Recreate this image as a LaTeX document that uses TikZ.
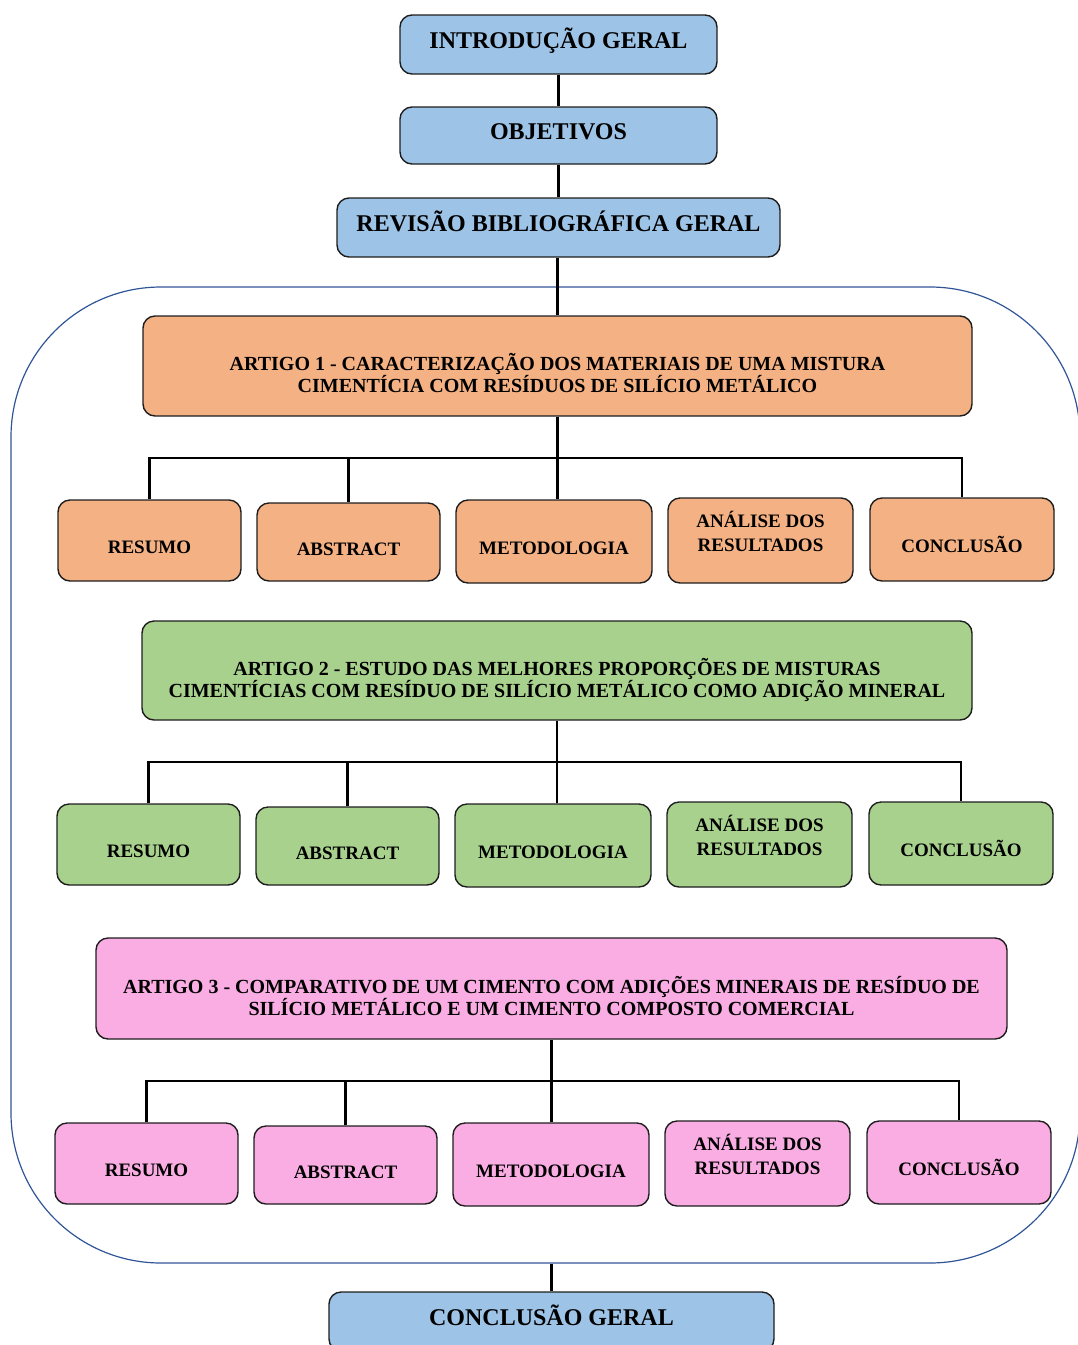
\documentclass[tikz,border=0pt]{standalone}
\usepackage{fontspec}
\setmainfont{Liberation Serif}
\usepackage{tikz}
\definecolor{azulcaixa}{HTML}{9DC3E6}
\definecolor{laranja}{HTML}{F4B183}
\definecolor{verde}{HTML}{A9D18E}
\definecolor{rosa}{HTML}{F9ADE3}
\definecolor{azulborda}{HTML}{2F5597}
\definecolor{contorno}{HTML}{1E1E1E}

\begin{document}
\begin{tikzpicture}[x=1pt, y=-1pt, every node/.style={draw=contorno, line width=1.4pt, rounded corners=12pt, inner sep=0pt},
  geral/.style={fill=azulcaixa, font=\fontsize{24}{28}\selectfont\bfseries, minimum height=59pt, text height=8pt, text depth=0pt},
  artigo/.style={align=center, font=\fontsize{20}{22}\selectfont\bfseries, minimum height=100pt, text height=53pt, text depth=0pt},
  secao/.style={font=\fontsize{19}{22}\selectfont\bfseries, text height=26pt, text depth=0pt},
  analise/.style={align=center, font=\fontsize{19}{24}\selectfont\bfseries, text height=22pt, text depth=0pt},
  ligacao/.style={line width=2.6pt, draw=black}]
  \useasboundingbox (0,0) rectangle (1078,1345);

  % moldura dos artigos
  \node[draw=azulborda, line width=1.2pt, rounded corners=150pt, minimum width=1069pt, minimum height=976pt] (moldura) at (545.5,775) {};

  \node[geral, minimum width=317pt] (intro) at (558.5,44.5) {INTRODUÇÃO GERAL};
  \node[geral, minimum width=317pt, minimum height=57pt] (obj) at (558.5,135.5) {OBJETIVOS};
  \node[geral, minimum width=443pt] (rev) at (558.5,227.5) {REVISÃO BIBLIOGRÁFICA GERAL};

  \node[artigo, fill=laranja, minimum width=829pt] (art1) at (557.5,366)
    {ARTIGO 1 - CARACTERIZAÇÃO DOS MATERIAIS DE UMA MISTURA\\CIMENTÍCIA COM RESÍDUOS DE SILÍCIO METÁLICO};
  \node[artigo, fill=verde, minimum width=830pt, minimum height=99pt] (art2) at (557,670.5)
    {ARTIGO 2 - ESTUDO DAS MELHORES PROPORÇÕES DE MISTURAS\\CIMENTÍCIAS COM RESÍDUO DE SILÍCIO METÁLICO COMO ADIÇÃO MINERAL};
  \node[artigo, fill=rosa, minimum width=911pt, minimum height=101pt] (art3) at (551.5,988.5)
    {ARTIGO 3 - COMPARATIVO DE UM CIMENTO COM ADIÇÕES MINERAIS DE RESÍDUO DE\\SILÍCIO METÁLICO E UM CIMENTO COMPOSTO COMERCIAL};

  \node[geral, minimum width=445pt] (cg) at (551.5,1321.5) {CONCLUSÃO GERAL};

  % secoes de cada artigo
  \foreach \r/\dx/\dy/\cor in {1/0/0/laranja, 2/-1/304/verde, 3/-3/623/rosa}{
    \node[secao, fill=\cor, minimum width=183pt, minimum height=81pt] (res\r) at (149.5+\dx,540.5+\dy) {RESUMO};
    \node[secao, fill=\cor, minimum width=183pt, minimum height=78pt] (abs\r) at (348.5+\dx,542+\dy) {ABSTRACT};
    \node[secao, fill=\cor, minimum width=196pt, minimum height=83pt] (met\r) at (554+\dx,541.5+\dy) {METODOLOGIA};
    \node[analise, fill=\cor, minimum width=185pt, minimum height=85pt] (ana\r) at (760.5+\dx,540.5+\dy) {ANÁLISE DOS\\RESULTADOS};
    \node[secao, fill=\cor, minimum width=184pt, minimum height=83pt] (con\r) at (962+\dx,539.5+\dy) {CONCLUSÃO};
    \coordinate (barra\r) at (556+\dx,458+\dy);
    \draw[ligacao] (art\r.south) -- (art\r.south |- met\r.north);
    \draw[ligacao] (res\r.north) |- (barra\r) -| (con\r.north);
    \draw[ligacao] (abs\r.north) -- (abs\r.north |- barra\r);
  }

  \draw[ligacao] (intro) -- (obj);
  \draw[ligacao] (obj) -- (rev);
  \draw[ligacao] (art1.north |- rev.south) -- (art1.north);
  \draw[ligacao] (cg.north |- moldura.south) -- (cg.north);
\end{tikzpicture}
\end{document}
